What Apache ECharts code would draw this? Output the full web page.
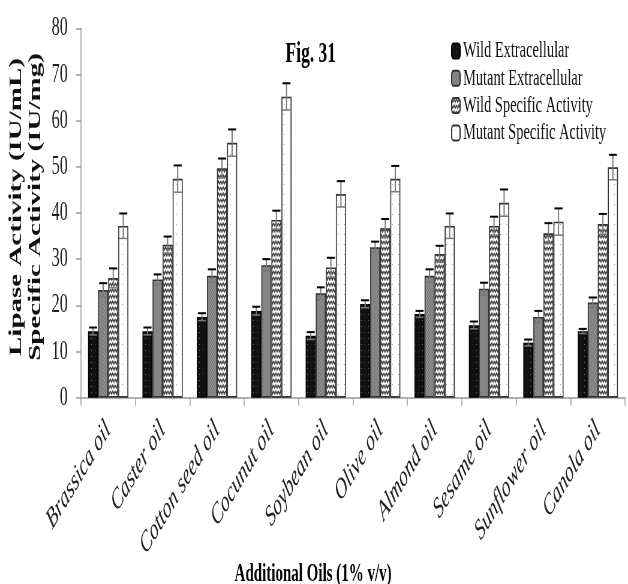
<!DOCTYPE html>
<html>
<head>
<meta charset="utf-8">
<script src="https://cdn.jsdelivr.net/npm/echarts@6/dist/echarts.min.js"></script>
<style>
html, body { margin: 0; padding: 0; overflow: hidden; background: #fff; width: 628px; height: 584px; }
#c { width: 1047px; height: 584px; transform: scaleX(0.59981); transform-origin: 0 0; }
</style>
</head>
<body>
<div id="c"></div>
<script>
const categories = ['Brassica oil', 'Caster oil', 'Cotton seed oil', 'Cocunut oil', 'Soybean oil', 'Olive oil', 'Almond oil', 'Sesame oil', 'Sunflower oil', 'Canola oil'];
const seriesNames = ['Wild Extracellular', 'Mutant Extracellular', 'Wild Specific Activity', 'Mutant Specific Activity'];
const wildExtra = [14.4, 14.4, 17.5, 18.8, 13.4, 20.3, 18.1, 15.7, 11.9, 14.4];
const wildExtraErr = [0.8, 0.8, 0.8, 0.9, 0.8, 0.8, 0.7, 0.8, 0.7, 0.5];
const mutantExtra = [23.3, 25.6, 26.4, 28.7, 22.6, 32.6, 26.4, 23.6, 17.5, 20.6];
const mutantExtraErr = [1.5, 1.1, 1.4, 1.3, 1.3, 1.2, 1.4, 1.3, 1.3, 1.1];
const wildSpec = [25.9, 33.1, 49.7, 38.5, 28.2, 36.7, 31.1, 37.2, 35.6, 37.6];
const wildSpecErr = [2.1, 1.8, 2.1, 2.0, 2.1, 2.0, 1.8, 2.0, 2.2, 2.2];
const mutantSpec = [37.2, 47.4, 55.2, 65.2, 44.1, 47.4, 37.2, 42.2, 38.1, 49.9];
const mutantSpecErr = [2.7, 2.9, 2.9, 2.9, 2.8, 2.8, 2.7, 2.9, 2.9, 2.7];
const yTicks = [0, 10, 20, 30, 40, 50, 60, 70, 80];

const FONT = '"Liberation Serif", "Times New Roman", serif';

function makePattern(kind) {
  const c = document.createElement('canvas');
  const ctx = c.getContext('2d');
  if (kind === 0) {
    c.width = 6; c.height = 6;
    ctx.fillStyle = '#111'; ctx.fillRect(0, 0, 6, 6);
    ctx.fillStyle = '#6a6a6a'; ctx.fillRect(2, 2, 1, 1);
  } else if (kind === 1) {
    c.width = 4; c.height = 4;
    ctx.fillStyle = '#858585'; ctx.fillRect(0, 0, 4, 4);
    ctx.fillStyle = '#6e6e6e'; ctx.fillRect(0, 0, 1, 1); ctx.fillRect(2, 2, 1, 1);
    ctx.fillStyle = '#9a9a9a'; ctx.fillRect(2, 0, 1, 1); ctx.fillRect(0, 2, 1, 1);
  } else if (kind === 2) {
    c.width = 8; c.height = 6;
    ctx.fillStyle = '#fff'; ctx.fillRect(0, 0, 8, 6);
    ctx.strokeStyle = '#444'; ctx.lineWidth = 1.6;
    ctx.beginPath();
    ctx.moveTo(0, 1); ctx.lineTo(2, 4); ctx.lineTo(4, 1); ctx.lineTo(6, 4); ctx.lineTo(8, 1);
    ctx.stroke();
  } else {
    c.width = 10; c.height = 10;
    ctx.fillStyle = '#fff'; ctx.fillRect(0, 0, 10, 10);
    ctx.fillStyle = '#9a9a9a'; ctx.fillRect(4, 4, 1, 1);
  }
  return { image: c, repeat: 'repeat' };
}

const values = [wildExtra, mutantExtra, wildSpec, mutantSpec];
const errs = [wildExtraErr, mutantExtraErr, wildSpecErr, mutantSpecErr];
const borders = ['#000', '#333', '#333', '#333'];
const GAP = 0.26;

const series = [];
values.forEach((vals, k) => {
  series.push({
    name: seriesNames[k],
    type: 'bar',
    data: vals,
    barGap: 0,
    barCategoryGap: (GAP * 100) + '%',
    itemStyle: { color: makePattern(k), borderColor: borders[k], borderWidth: 1.6 }
  });
});
values.forEach((vals, k) => {
  series.push({
    type: 'custom',
    name: 'err' + k,
    z: 5,
    silent: true,
    data: vals.map((v, i) => [i, v, errs[k][i]]),
    renderItem: function (params, api) {
      const i = api.value(0), v = api.value(1), e = api.value(2);
      const band = api.size([1, 0])[0];
      const bw = band * (1 - GAP) / 4;
      const cx = api.coord([i, v])[0] + (k - 1.5) * bw;
      const top = api.coord([i, v + e])[1];
      const bot = api.coord([i, v - e])[1];
      const half = bw * 0.4;
      return {
        type: 'group',
        children: [
          { type: 'line', shape: { x1: cx, y1: top, x2: cx, y2: bot }, style: { stroke: '#7a7a7a', lineWidth: 2 } },
          { type: 'line', shape: { x1: cx - half, y1: top, x2: cx + half, y2: top }, style: { stroke: '#000', lineWidth: 2 } },
          { type: 'line', shape: { x1: cx - half, y1: bot, x2: cx + half, y2: bot }, style: { stroke: '#7a7a7a', lineWidth: 1.5 } }
        ]
      };
    }
  });
});

const chart = echarts.init(document.getElementById('c'), null, { renderer: 'canvas' });
chart.setOption({
  animation: false,
  backgroundColor: '#fff',
  title: [
    { text: 'Fig. 31', left: 513, top: 35, textAlign: 'center',
      textStyle: { fontFamily: FONT, fontWeight: 'bold', fontSize: 29, color: '#000' } },
    { text: 'Additional Oils (1% v/v)', left: 517, top: 557, textAlign: 'center',
      textStyle: { fontFamily: FONT, fontWeight: 'bold', fontSize: 25, color: '#000' } }
  ],
  legend: {
    data: seriesNames,
    orient: 'vertical',
    left: 747,
    top: 34,
    itemWidth: 14,
    itemHeight: 15,
    itemGap: 3.3,
    textStyle: { fontFamily: FONT, fontSize: 24, color: '#111', lineHeight: 20 }
  },
  grid: { left: 135, right: 5, top: 28.3, bottom: 186.3, containLabel: false },
  xAxis: {
    type: 'category',
    data: categories,
    axisLine: { lineStyle: { color: '#999', width: 1.5 } },
    axisTick: { show: true, length: 8, lineStyle: { color: '#999', width: 1.5 } },
    axisLabel: { rotate: 45, margin: 28, fontFamily: FONT, fontStyle: 'italic', fontSize: 29, color: '#222', interval: 0 }
  },
  yAxis: {
    type: 'value',
    min: yTicks[0],
    max: yTicks[yTicks.length - 1],
    interval: 10,
    name: 'Lipase Activity (IU/mL)\nSpecific Activity (IU/mg)',
    nameLocation: 'middle',
    nameRotate: 90,
    nameGap: 55,
    nameTextStyle: { fontFamily: FONT, fontWeight: 'bold', fontSize: 29, lineHeight: 32, color: '#111', padding: [0, 0, 0, 12] },
    splitLine: { show: false },
    axisLine: { show: true, lineStyle: { color: '#999', width: 1.5 } },
    axisTick: { show: true, length: 8, lineStyle: { color: '#999', width: 1.5 } },
    axisLabel: { margin: 22, fontFamily: FONT, fontSize: 27, color: '#222' }
  },
  series: series
});
</script>
</body>
</html>
